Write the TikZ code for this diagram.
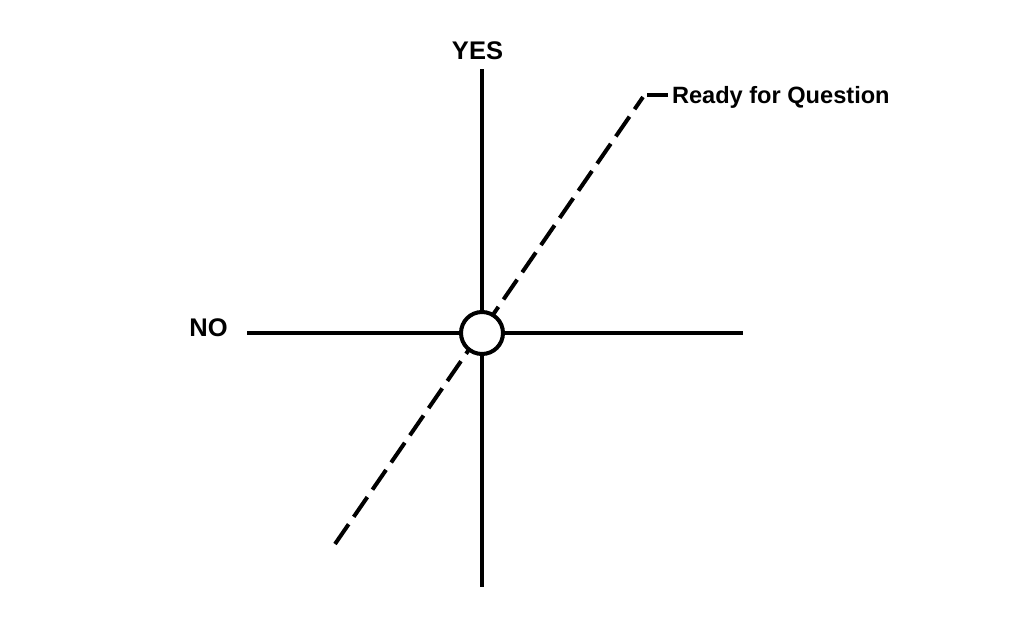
\documentclass[tikz,border=0pt]{standalone}
\usepackage{fontspec}
\setmainfont{Liberation Sans}
\usetikzlibrary{positioning}

\begin{document}
\begin{tikzpicture}[x=1pt, y=-1pt, line width=4pt,
    axis/.style={black, line width=4pt},
    dashline/.style={black, line width=4pt, dash pattern=on 24pt off 9pt},
    lbl/.style={inner sep=0pt, font=\fontsize{23.6}{28}\selectfont\bfseries},
    biglbl/.style={inner sep=0pt, font=\fontsize{25.5}{30}\selectfont\bfseries}]
  \useasboundingbox (0,0) rectangle (1023,632);

 %centre
	\def\cx{482};
	\def\cy{333};

 %end points
    \coordinate (top)   at (\cx, 69);
    \coordinate (bot)   at (\cx, 587);
    \coordinate (left)  at (247, \cy);
    \coordinate (right) at (743, \cy);
    \coordinate (low)   at (335, 544);
    \coordinate (high)  at (643, 97);
    \coordinate (tick1) at (647, 95);
    \coordinate (tick2) at (668, 95);

 %axes
    \foreach \a/\b in {top/bot, left/right} {
         \draw[axis] (\a) -- (\b);
    }

 %dashed line
    \draw[dashline] (low) -- (high);
    \draw[axis] (tick1) -- (tick2);

 %circle on top
    \node[circle, draw=black, fill=white, line width=4pt, minimum size=42pt, inner sep=0pt] (c) at (\cx, \cy) {};

 %labels
    \node[biglbl, anchor=base] (yes) at (477.5, 59) {YES};
    \node[biglbl, anchor=base] (no) at (208.5, 336) {NO};
    \node[lbl, anchor=base west] (ready) at (670, 103) {Ready for Question};

\end{tikzpicture}
\end{document}
